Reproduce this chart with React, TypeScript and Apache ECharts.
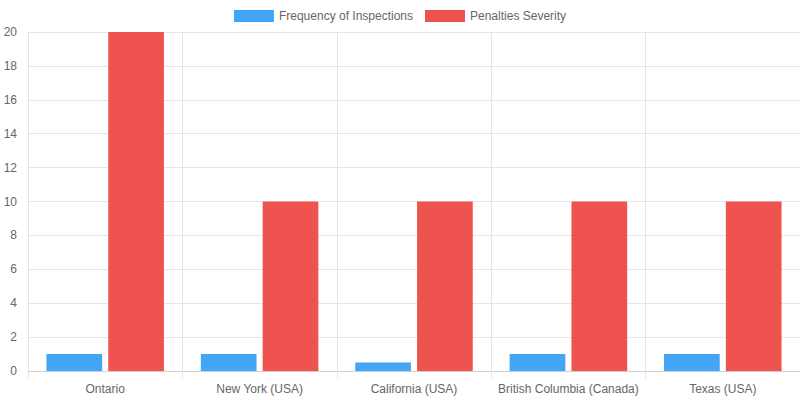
import React, { useEffect, useRef } from "react";
import * as echarts from "echarts";

const categories = ["Ontario", "New York (USA)", "California (USA)", "British Columbia (Canada)", "Texas (USA)"];
const frequencyOfInspections = [1, 1, 0.5, 1, 1];
const penaltiesSeverity = [20, 10, 10, 10, 10];
const seriesNames = ["Frequency of Inspections", "Penalties Severity"];

export default function App() {
  const ref = useRef<HTMLDivElement>(null);
  useEffect(() => {
    if (!ref.current) return;
    const chart = echarts.init(ref.current, undefined, { renderer: "svg" });
    const font = "'Liberation Sans', Arial, sans-serif";
    chart.setOption({
      animation: false,
      textStyle: { fontFamily: font },
      legend: {
        top: 5,
        left: "center",
        itemWidth: 40,
        itemHeight: 12,
        itemGap: 12,
        icon: "rect",
        textStyle: { color: "#666", fontSize: 12, fontFamily: font },
        data: seriesNames,
      },
      grid: { left: 28, right: 0, top: 32, bottom: 29, containLabel: false },
      xAxis: {
        type: "category",
        data: categories,
        boundaryGap: true,
        axisLine: { show: true, lineStyle: { color: "#cfcfcf" } },
        axisTick: { show: true, length: 8, alignWithLabel: false, lineStyle: { color: "#e5e5e5" } },
        splitLine: { show: true, lineStyle: { color: "#e5e5e5" } },
        axisLabel: { color: "#666", fontSize: 12, fontFamily: font, margin: 12, interval: 0 },
      },
      yAxis: {
        type: "value",
        min: 0,
        max: 20,
        interval: 2,
        axisLine: { show: true, lineStyle: { color: "#e5e5e5" } },
        axisTick: { show: false },
        splitLine: { show: true, lineStyle: { color: "#e5e5e5" } },
        axisLabel: { color: "#666", fontSize: 12, fontFamily: font, margin: 11 },
      },
      series: [
        {
          name: seriesNames[0],
          type: "bar",
          data: frequencyOfInspections,
          barWidth: 55.7,
          barGap: "11%",
          itemStyle: { color: "#42A5F5" },
        },
        {
          name: seriesNames[1],
          type: "bar",
          data: penaltiesSeverity,
          barWidth: 55.7,
          barGap: "11%",
          itemStyle: { color: "#EF5350" },
        },
      ],
    });
    return () => chart.dispose();
  }, []);
  return <div ref={ref} style={{ width: 800, height: 400, position: "absolute", left: 0, top: 0 }} />;
}
